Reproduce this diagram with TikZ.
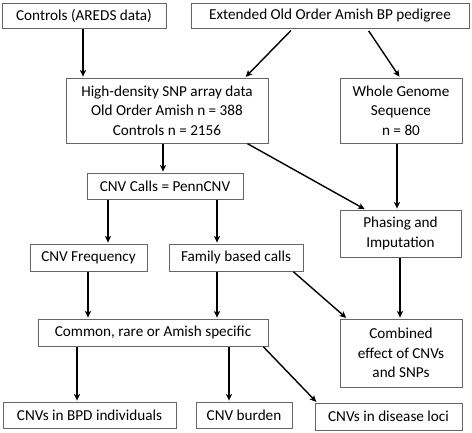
\documentclass[tikz,border=0pt]{standalone}
\usepackage{fontspec}
\setmainfont{Carlito}
\usetikzlibrary{arrows.meta}
\begin{document}
\begin{tikzpicture}[x=1pt,y=-1pt,
  box/.style={draw=black!60, line width=0.8pt, fill=white, inner sep=0pt, align=center,
    font=\fontsize{15.2}{19.5}\selectfont},
  arr/.style={line width=1.4pt, -{Stealth[length=6.5pt,width=6pt,inset=1.5pt]}, shorten <=0.5pt, shorten >=1pt}]
\useasboundingbox[fill=white] (0,0) rectangle (472,432);
\node[box, minimum width=164pt, minimum height=25pt] (ctrl) at (84,15.5) {Controls (AREDS data)};
\node[box, minimum width=278pt, minimum height=25pt] (ext) at (330,15.5) {Extended Old Order Amish BP pedigree};
\node[box, minimum width=202pt, minimum height=65pt] (hd) at (167,110.5) {High-density SNP array data\\Old Order Amish n = 388\\Controls n = 2156};
\node[box, minimum width=122pt, minimum height=65pt] (wgs) at (401,110.5) {Whole Genome\\Sequence\\n = 80};
\node[box, minimum width=156pt, minimum height=26pt] (calls) at (165,186) {CNV Calls = PennCNV};
\node[box, minimum width=121pt, minimum height=47pt] (phase) at (400.5,233.5) {Phasing and\\Imputation};
\node[box, minimum width=117pt, minimum height=27pt] (freq) at (88.5,257.5) {CNV Frequency};
\node[box, minimum width=134pt, minimum height=27pt] (fam) at (236,257.5) {Family based calls};
\node[box, minimum width=230pt, minimum height=27pt] (common) at (153,332.5) {Common, rare or Amish specific};
\node[box, minimum width=122pt, minimum height=68pt] (comb) at (401,353) {Combined\\effect of CNVs\\and SNPs};
\node[box, minimum width=173pt, minimum height=26pt] (bpd) at (89.5,415) {CNVs in BPD individuals};
\node[box, minimum width=96pt, minimum height=26pt] (burden) at (244,415) {CNV burden};
\node[box, minimum width=147pt, minimum height=27pt] (dis) at (388.5,416.5) {CNVs in disease loci};

\draw[arr] ([xshift=-1pt]ctrl.south) -- ([xshift=-1pt]ctrl.south |- hd.north);
\draw[arr, shorten <=3pt] ([xshift=-37pt]ext.south) -- ([xshift=78pt]hd.north);
\draw[arr, shorten <=3pt] ([xshift=37pt]ext.south) -- ([xshift=-1pt]wgs.north);
\draw[arr] ([xshift=-4pt]hd.south) -- ([xshift=-4pt]hd.south |- calls.north);
\draw[arr] ([xshift=80pt]hd.south) -- ([xshift=-35pt]phase.north);
\draw[arr] ([xshift=-4pt]wgs.south) -- ([xshift=-4pt]wgs.south |- phase.north);
\draw[arr] ([xshift=-57pt]calls.south) -- ([xshift=-57pt]calls.south |- freq.north);
\draw[arr] ([xshift=52pt]calls.south) -- ([xshift=52pt]calls.south |- fam.north);
\draw[arr] ([xshift=-0.5pt]freq.south) -- ([xshift=-0.5pt]freq.south |- common.north);
\draw[arr] ([xshift=-19pt]fam.south) -- ([xshift=-19pt]fam.south |- common.north);
\draw[arr] ([xshift=57pt]fam.south) -- ([xshift=-54pt]comb.north);
\draw[arr] ([xshift=-0.5pt]phase.south) -- ([xshift=-0.5pt]phase.south |- comb.north);
\draw[arr] ([xshift=-76pt]common.south) -- ([xshift=-76pt]common.south |- bpd.north);
\draw[arr] ([xshift=76pt]common.south) -- ([xshift=76pt]common.south |- burden.north);
\draw[arr] ([xshift=110pt]common.south) -- ([xshift=-71.5pt]dis.north);
\end{tikzpicture}
\end{document}
